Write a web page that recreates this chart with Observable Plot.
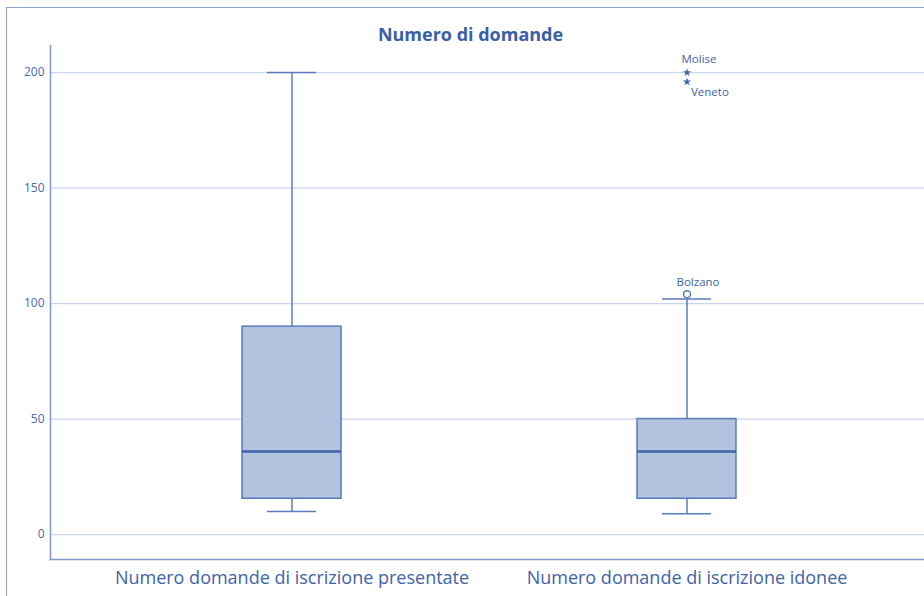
<!DOCTYPE html>
<html>
<head>
<meta charset="utf-8">
<script src="https://cdn.jsdelivr.net/npm/d3@7"></script>
<script src="https://cdn.jsdelivr.net/npm/@observablehq/plot@0.6"></script>
<style>
  html, body { margin: 0; padding: 0; background: #fff; }
  #wrap { position: relative; width: 924px; height: 596px; overflow: hidden; }
  #border { position: absolute; left: 6px; top: 7px; width: 1000px; height: 1000px;
            border-left: 1.5px solid #8fa5d0; border-top: 1.5px solid #8fa5d0; pointer-events: none; }
  svg { position: absolute; left: 0; top: 0; }
</style>
</head>
<body>
<div id="wrap"><div id="border"></div></div>
<script>
const categories = ["Numero domande di iscrizione presentate", "Numero domande di iscrizione idonee"];
const whiskerLow = [10, 9];
const q1 = [15.5, 15.5];
const median = [36, 36];
const q3 = [90, 50];
const whiskerHigh = [200, 102];
const outlierNames = ["Bolzano", "Molise", "Veneto"];
const outlierValues = [104, 200, 196];
const outlierCategory = [1, 1, 1];
const outlierKind = ["circle", "star", "star"];
const yTicks = [0, 50, 100, 150, 200];
const title = "Numero di domande";

const boxes = categories.map((c, i) => ({
  cat: c, lo: whiskerLow[i], q1: q1[i], med: median[i], q3: q3[i], hi: whiskerHigh[i]
}));
const outliers = outlierNames.map((n, i) => ({
  name: n, value: outlierValues[i], cat: categories[outlierCategory[i]], kind: outlierKind[i]
}));

const stroke = "#5a7bba";
const textColor = "#3f63a8";

const chart = Plot.plot({
  width: 924,
  height: 596,
  marginTop: 45,
  marginBottom: 37,
  marginLeft: 50,
  marginRight: 0,
  style: { background: "transparent", fontFamily: "'Open Sans', sans-serif" },
  x: { type: "band", domain: categories, range: [93.5, 883.5], padding: 0 },
  y: { domain: [-10.8, 211.7] },
  marks: [
    Plot.ruleY(yTicks, { stroke: "#c9d5ec", strokeWidth: 1.2 }),
    Plot.frame({ anchor: "left", stroke: "#7f97c8", strokeWidth: 1.5 }),
    Plot.frame({ anchor: "bottom", stroke: "#7f97c8", strokeWidth: 1.5 }),
    Plot.axisY(yTicks, { tickSize: 0, tickPadding: 6, fontSize: 12, color: "#4a6aab", label: null }),
    Plot.axisX({ tickSize: 0, tickPadding: 12, fontSize: 18, color: "#3f63a8", label: null }),
    Plot.ruleX(boxes, { x: "cat", y1: "lo", y2: "q1", stroke, strokeWidth: 1.5 }),
    Plot.ruleX(boxes, { x: "cat", y1: "q3", y2: "hi", stroke, strokeWidth: 1.5 }),
    Plot.tickY(boxes, { x: "cat", y: "lo", stroke, strokeWidth: 1.5, insetLeft: 173, insetRight: 173 }),
    Plot.tickY(boxes, { x: "cat", y: "hi", stroke, strokeWidth: 1.5, insetLeft: 173, insetRight: 173 }),
    Plot.barY(boxes, { x: "cat", y1: "q1", y2: "q3", fill: "#b3c2de", stroke, strokeWidth: 1.5, insetLeft: 148, insetRight: 148 }),
    Plot.tickY(boxes, { x: "cat", y: "med", stroke: "#3e63ab", strokeWidth: 2.5, insetLeft: 148, insetRight: 148 }),
    Plot.dot(outliers.filter(d => d.kind === "circle"), { x: "cat", y: "value", r: 3.5, fill: "white", stroke, strokeWidth: 1.5 }),
    Plot.dot(outliers.filter(d => d.kind === "star"), { x: "cat", y: "value", r: 2.6, symbol: "star", fill: "#3e63ab" }),
    Plot.text(outliers.filter(d => d.name === "Bolzano"), { x: "cat", y: "value", text: "name", dx: 11, dy: -12, fontSize: 11.5, fill: textColor }),
    Plot.text(outliers.filter(d => d.name === "Molise"), { x: "cat", y: "value", text: "name", dx: 12, dy: -13, fontSize: 11.5, fill: textColor }),
    Plot.text(outliers.filter(d => d.name === "Veneto"), { x: "cat", y: "value", text: "name", dx: 4, dy: 11, textAnchor: "start", fontSize: 11.5, fill: textColor }),
    Plot.text([title], { frameAnchor: "top", text: d => d, dx: -17, dy: -17, fontSize: 18, fontWeight: "bold", fill: "#3a5fa8" })
  ]
});
document.getElementById("wrap").appendChild(chart);
</script>
</body>
</html>
